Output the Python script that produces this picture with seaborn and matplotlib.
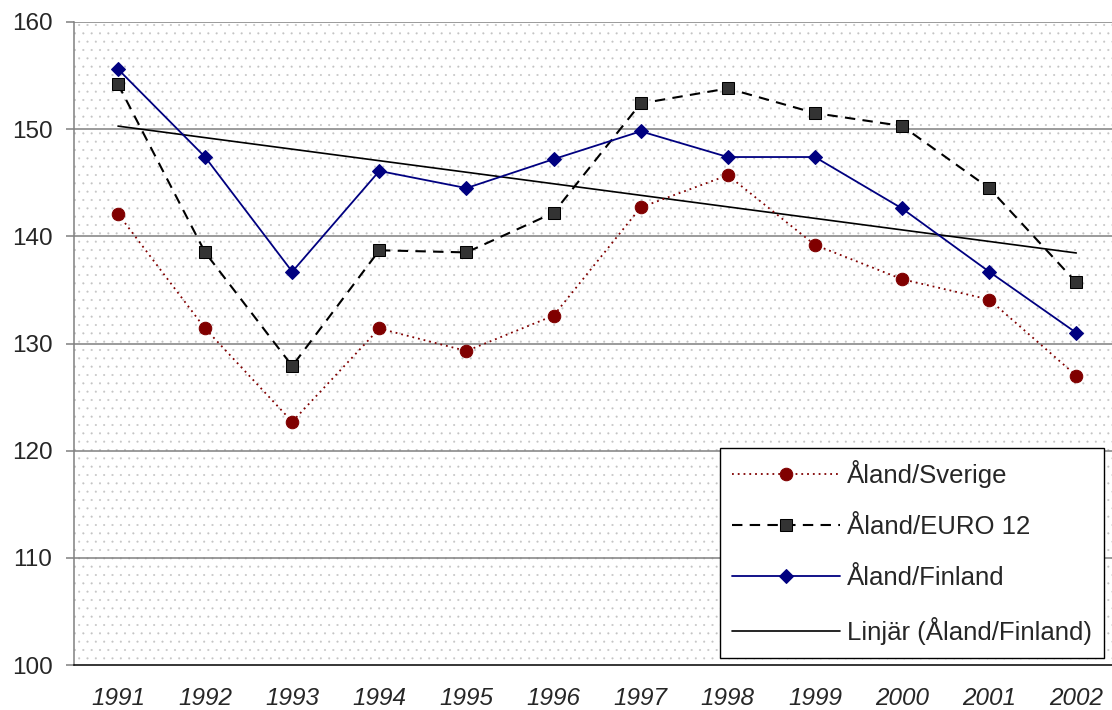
import matplotlib
matplotlib.use("Agg")
import matplotlib.pyplot as plt
from matplotlib.patches import Rectangle
from matplotlib.ticker import FixedLocator
import numpy as np
import pandas as pd
import seaborn as sns

years = ["1991", "1992", "1993", "1994", "1995", "1996",
         "1997", "1998", "1999", "2000", "2001", "2002"]
sverige = [142.1, 131.4, 122.7, 131.4, 129.3, 132.6, 142.7, 145.7, 139.2, 136.0, 134.1, 127.0]
euro12 = [154.2, 138.5, 127.9, 138.7, 138.5, 142.2, 152.4, 153.8, 151.5, 150.3, 144.5, 135.7]
finland = [155.6, 147.4, 136.7, 146.1, 144.5, 147.2, 149.8, 147.4, 147.4, 142.6, 136.7, 131.0]

df = pd.DataFrame({"pos": np.arange(len(years)), "year": years,
                   "sverige": sverige, "euro12": euro12, "finland": finland})

sns.set_style("white")
plt.rcParams["font.family"] = ["Liberation Sans", "DejaVu Sans"]
plt.rcParams["hatch.linewidth"] = 0.25

fig = plt.figure(figsize=(11.12, 7.10), dpi=100)
ax = fig.add_axes([74 / 1112, 45 / 710, 1038 / 1112, 643 / 710])

# dotted background like the original
bg = Rectangle((0, 0), 1, 1, transform=ax.transAxes, facecolor="white",
               edgecolor="#c4c4c4", lw=0, hatch="..", zorder=0)
ax.add_patch(bg)

for y in range(110, 161, 10):
    ax.axhline(y, color="#808080", lw=1.1, zorder=1)

sns.lineplot(data=df, x="pos", y="sverige", ax=ax, color="#800000", lw=1.3,
             linestyle=(0, (1, 2.2)), marker="o", markersize=9,
             markerfacecolor="#800000", markeredgecolor="#800000",
             label="Åland/Sverige", zorder=3)
sns.lineplot(data=df, x="pos", y="euro12", ax=ax, color="black", lw=1.5,
             linestyle=(0, (5, 3.5)), marker="s", markersize=8.5,
             markerfacecolor="#333333", markeredgecolor="black",
             label="Åland/EURO 12", zorder=3)
sns.lineplot(data=df, x="pos", y="finland", ax=ax, color="#000080", lw=1.3,
             marker="D", markersize=7.5, markerfacecolor="#000080",
             markeredgecolor="#000080", label="Åland/Finland", zorder=4)
sns.regplot(data=df, x="pos", y="finland", ax=ax, scatter=False, ci=None,
            color="black", line_kws={"lw": 1.2, "zorder": 2},
            label="Linjär (Åland/Finland)")

ax.set_ylim(100, 160)
ax.set_xlim(-0.505, 11.41)
ax.set_yticks(range(100, 161, 10))
ax.set_xticks(df["pos"])
ax.set_xticklabels(years, style="italic", fontsize=17.5)
ax.xaxis.set_minor_locator(FixedLocator(np.arange(0.5, 11.0, 1.0)))
ax.tick_params(axis="x", which="major", length=0, pad=16)
ax.tick_params(axis="x", which="minor", length=5.5, width=1.1, color="black", direction="out")
ax.tick_params(axis="y", length=5.5, width=1.1, color="#808080", direction="out",
               labelsize=17.5, pad=10, left=True)
ax.set_xlabel("")
ax.set_ylabel("")

for s in ["top", "right"]:
    ax.spines[s].set_visible(False)
ax.spines["left"].set_color("#808080")
ax.spines["left"].set_linewidth(1.1)
ax.spines["bottom"].set_color("black")
ax.spines["bottom"].set_linewidth(1.1)

leg = ax.legend(loc="upper left", bbox_to_anchor=((720 - 74) / 1038, (665 - 448) / 643),
                borderaxespad=0, fontsize=18.5, handlelength=4.2, labelspacing=1.05,
                handletextpad=0.25, borderpad=0.48, fancybox=False, framealpha=1,
                edgecolor="black")
leg.get_frame().set_linewidth(1.0)
leg.set_zorder(10)

fig.savefig("out.png", dpi=100)
